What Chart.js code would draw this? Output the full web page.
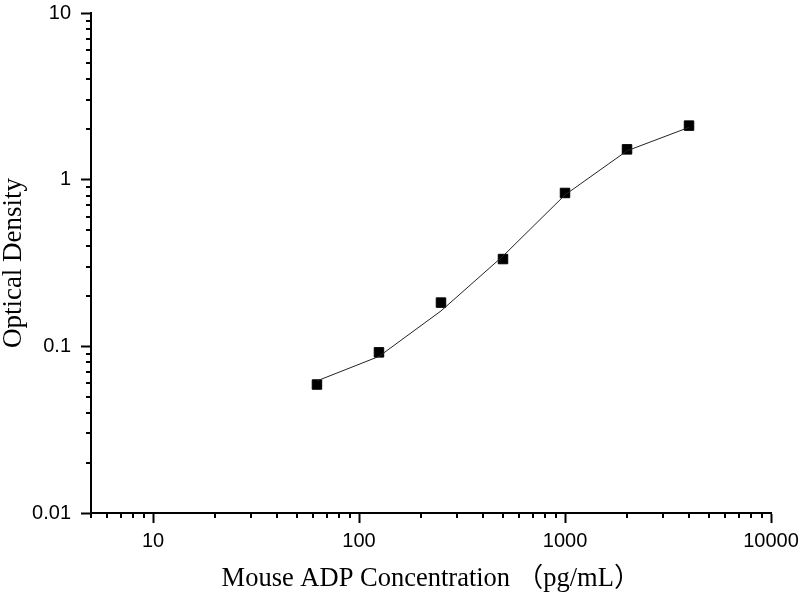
<!DOCTYPE html>
<html>
<head>
<meta charset="utf-8">
<script src="https://cdn.jsdelivr.net/npm/chart.js@4.4.1/dist/chart.umd.min.js"></script>
<style>
  html, body { margin: 0; padding: 0; background: #fff; }
  #wrap { width: 800px; height: 600px; position: relative; }
</style>
</head>
<body>
<div id="wrap"><canvas id="c" width="800" height="600"></canvas></div>
<script>
// ---- data ----
const concentrations = [62.5, 125, 250, 500, 1000, 2000, 4000];         // pg/mL
const odValues       = [0.059, 0.092, 0.183, 0.334, 0.832, 1.52, 2.11];  // measured OD
const fitValues      = [0.062, 0.087, 0.163, 0.348, 0.81, 1.49, 2.06];   // fitted curve
const xMajorTicks  = [10, 100, 1000, 10000];
const xTickLabels  = ['10', '100', '1000', '10000'];
const yMajorTicks  = [0.01, 0.1, 1, 10];
const yTickLabels  = ['0.01', '0.1', '1', '10'];
const xTitle = 'Mouse ADP Concentration \uFF08pg/mL\uFF09';
const yTitle = 'Optical Density';

function logTicks(min, max) {
  const out = [];
  for (let e = Math.floor(Math.log10(min)); e <= Math.ceil(Math.log10(max)); e++) {
    for (let m = 1; m <= 9; m++) {
      const v = parseFloat((m * Math.pow(10, e)).toPrecision(6));
      if (v >= min - 1e-12 && v <= max + 1e-12) out.push({ value: v, major: m === 1 });
    }
  }
  return out;
}

const minorTicks = {
  id: 'minorTicks',
  afterDraw(chart) {
    const ctx = chart.ctx;
    ctx.save();
    ctx.strokeStyle = '#000';
    ctx.lineWidth = 2;
    const xs = chart.scales.x, ys = chart.scales.y;
    const a = chart.chartArea;
    xs.ticks.forEach(t => {
      if (t.major) return;
      const px = Math.round(xs.getPixelForValue(t.value));
      ctx.beginPath(); ctx.moveTo(px, a.bottom); ctx.lineTo(px, a.bottom + 5); ctx.stroke();
    });
    ys.ticks.forEach(t => {
      if (t.major) return;
      const py = Math.round(ys.getPixelForValue(t.value));
      ctx.beginPath(); ctx.moveTo(a.left, py); ctx.lineTo(a.left - 5, py); ctx.stroke();
    });
    ctx.restore();
  }
};

const tickFont = { family: "'Liberation Sans', Arial, sans-serif", size: 20 };
const titleFontFamily = "'Liberation Serif', 'Times New Roman', 'Noto Sans CJK SC', serif";

new Chart(document.getElementById('c'), {
  type: 'line',
  data: {
    datasets: [
      {
        label: 'fit',
        data: concentrations.map((c, i) => ({ x: c, y: fitValues[i] })),
        borderColor: '#222',
        borderWidth: 1,
        pointRadius: 0,
        tension: 0,
        fill: false
      },
      {
        label: 'OD',
        data: concentrations.map((c, i) => ({ x: c, y: odValues[i] })),
        showLine: false,
        pointStyle: 'rect',
        pointRadius: 6.7,
        pointBorderWidth: 1,
        pointBackgroundColor: '#000',
        pointBorderColor: '#000'
      }
    ]
  },
  options: {
    responsive: false,
    animation: false,
    devicePixelRatio: 1,
    layout: { padding: { left: 0, right: 29, top: 13, bottom: 0 } },
    plugins: { legend: { display: false }, tooltip: { enabled: false } },
    scales: {
      x: {
        type: 'logarithmic',
        min: 5, max: 10000,
        afterBuildTicks: s => { s.ticks = logTicks(5, 10000); },
        afterFit: s => { s.height = 87; s.paddingLeft = 0; s.paddingRight = 0; },
        border: { display: true, color: '#000', width: 2 },
        grid: {
          drawOnChartArea: false, drawTicks: true, tickLength: 10, tickWidth: 2,
          tickColor: c => (c.tick && c.tick.major) ? '#000' : 'rgba(0,0,0,0)'
        },
        ticks: {
          autoSkip: false, maxRotation: 0, color: '#000', font: tickFont, padding: 6,
          callback: v => { const i = xMajorTicks.indexOf(v); return i >= 0 ? xTickLabels[i] : ''; }
        },
        title: {
          display: true, text: xTitle, color: '#000',
          font: { family: titleFontFamily, size: 26.5, lineHeight: 1 },
          padding: { top: 0, bottom: 8 }
        }
      },
      y: {
        type: 'logarithmic',
        min: 0.01, max: 10,
        afterBuildTicks: s => { s.ticks = logTicks(0.01, 10); },
        afterFit: s => { s.width = 91; s.paddingTop = 0; s.paddingBottom = 0; },
        border: { display: true, color: '#000', width: 2 },
        grid: {
          drawOnChartArea: false, drawTicks: true, tickLength: 10, tickWidth: 2,
          tickColor: c => (c.tick && c.tick.major) ? '#000' : 'rgba(0,0,0,0)'
        },
        ticks: {
          autoSkip: false, color: '#000', font: tickFont, padding: 10,
          callback: v => {
            const i = yMajorTicks.findIndex(m => Math.abs(m - v) / m < 1e-6);
            return i >= 0 ? yTickLabels[i] : '';
          }
        },
        title: {
          display: true, text: yTitle, color: '#000',
          font: { family: titleFontFamily, size: 27, lineHeight: 1 },
          padding: { top: 0, bottom: 0 }
        }
      }
    }
  },
  plugins: [minorTicks]
});
</script>
</body>
</html>
